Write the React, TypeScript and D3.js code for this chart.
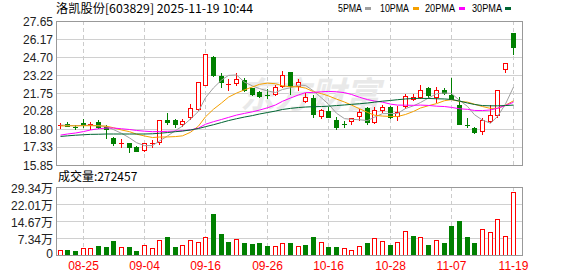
import React from 'react';
import * as d3 from 'd3';

const title = '洛凯股份[603829] 2025-11-19 10:44';
const dates = [
  '08-20','08-21','08-22','08-25','08-26','08-27','08-28','08-29','09-01','09-02',
  '09-03','09-04','09-05','09-08','09-09','09-10','09-11','09-12','09-15','09-16',
  '09-17','09-18','09-19','09-22','09-23','09-24','09-25','09-26','09-29','09-30',
  '10-09','10-10','10-13','10-14','10-15','10-16','10-17','10-20','10-21','10-22',
  '10-23','10-24','10-27','10-28','10-29','10-30','10-31','11-03','11-04','11-05',
  '11-06','11-07','11-10','11-11','11-12','11-13','11-14','11-17','11-18','11-19'];
const opens = [
  19.10,19.18,18.95,19.26,19.16,19.40,18.99,18.04,17.62,17.63,
  17.35,17.05,17.58,17.76,19.54,19.54,19.21,19.81,20.44,22.40,
  24.72,23.17,22.46,22.59,22.81,22.13,21.86,21.55,21.64,22.32,
  23.45,22.35,21.12,21.31,19.89,20.27,19.54,19.23,19.48,19.86,
  20.49,19.40,20.36,20.63,19.86,20.72,21.26,21.45,22.18,21.45,
  21.99,21.58,20.76,19.15,18.85,18.63,19.48,19.95,23.69,26.64];
const highs = [
  19.26,19.35,19.13,19.62,19.34,19.53,19.13,18.12,17.95,17.68,
  17.40,17.66,17.90,19.54,20.08,19.58,19.58,20.85,22.67,24.95,
  24.75,23.41,22.87,23.41,22.95,22.15,21.90,22.05,22.40,23.55,
  23.45,22.87,21.72,21.58,20.46,20.63,19.76,19.48,19.67,20.44,
  20.58,20.63,20.76,20.65,20.68,21.64,21.64,22.40,22.26,22.26,
  22.18,23.00,21.45,19.67,18.95,19.67,20.76,21.99,24.19,26.64];
const lows = [
  18.85,19.02,18.80,19.00,18.77,18.85,18.04,17.49,17.30,16.89,
  16.98,17.00,17.35,17.57,19.21,18.94,19.07,19.58,20.35,22.40,
  23.15,22.22,21.99,22.40,21.95,21.58,21.45,21.31,21.60,22.26,
  21.63,21.99,21.04,19.76,19.67,19.75,18.80,18.99,19.18,19.54,
  19.18,19.26,20.22,19.67,19.54,20.54,21.20,21.31,21.36,20.99,
  21.67,21.26,19.18,18.99,18.50,18.36,19.40,19.81,23.45,24.92];
const closes = [
  19.14,19.07,18.92,19.15,19.20,18.99,18.80,17.63,17.65,17.30,
  17.02,17.62,17.62,19.54,19.36,19.21,19.45,20.56,22.67,24.95,
  23.22,22.63,22.50,22.87,21.99,21.67,21.53,21.52,22.26,23.22,
  22.36,22.63,21.40,20.00,20.36,19.76,18.94,19.20,19.67,20.22,
  19.40,20.36,20.63,19.76,20.22,21.47,21.42,21.99,21.58,21.99,
  21.72,21.26,19.18,19.10,18.58,19.54,19.95,21.99,24.19,25.54];
const volumes = [
  21600,23000,17300,31600,31600,38800,35900,60400,33100,34500,
  17300,41700,28800,63300,77700,34500,43100,64000,54600,77700,
  177000,90600,56100,67600,51800,47500,51800,38800,38800,50300,
  51800,38800,43100,77700,54600,34500,34500,28800,20100,38800,
  51800,71900,59500,43100,54600,103500,83400,77700,43100,63300,
  51800,125100,146700,77700,51800,112200,99200,155300,82000,272457];
const ma5 = [
  19.12,19.10,19.06,19.10,19.10,19.07,19.01,18.75,18.45,18.07,
  17.68,17.44,17.44,17.82,18.23,18.67,19.04,19.62,20.25,21.37,
  22.17,22.81,23.19,23.23,22.64,22.33,22.11,21.92,21.79,22.04,
  22.18,22.40,22.37,21.92,21.35,20.83,20.09,19.65,19.59,19.56,
  19.49,19.77,20.06,20.07,20.07,20.48,20.70,20.97,21.34,21.69,
  21.75,21.71,21.15,20.65,19.97,19.53,19.27,19.83,20.85,22.24];
const ma10 = [
  19.05,19.06,19.06,19.07,19.07,19.06,19.03,18.90,18.72,18.58,
  18.38,18.23,18.10,18.14,18.15,18.18,18.24,18.53,19.04,19.80,
  20.42,20.93,21.41,21.74,22.01,22.25,22.46,22.56,22.51,22.34,
  22.26,22.26,22.15,21.86,21.70,21.51,21.25,21.01,20.76,20.46,
  20.16,19.93,19.86,19.83,19.82,19.99,20.24,20.52,20.71,20.88,
  21.12,21.21,21.06,21.00,20.83,20.64,20.49,20.49,20.75,21.11];
const ma20 = [
  18.30,18.39,18.47,18.59,18.72,18.82,18.88,18.88,18.82,18.76,
  18.68,18.62,18.58,18.59,18.61,18.63,18.66,18.72,18.88,19.19,
  19.40,19.58,19.75,19.94,20.08,20.21,20.35,20.54,20.77,21.07,
  21.34,21.59,21.78,21.80,21.85,21.88,21.85,21.78,21.63,21.40,
  21.21,21.09,21.00,20.84,20.76,20.75,20.74,20.76,20.73,20.67,
  20.64,20.57,20.46,20.41,20.32,20.31,20.36,20.50,20.73,20.99];
const ma30 = [
  18.19,18.24,18.29,18.33,18.36,18.37,18.39,18.39,18.39,18.39,
  18.39,18.39,18.41,18.45,18.51,18.58,18.63,18.72,18.84,18.99,
  19.15,19.33,19.49,19.64,19.78,19.90,20.03,20.15,20.27,20.40,
  20.49,20.56,20.60,20.63,20.64,20.67,20.72,20.77,20.82,20.87,
  20.93,21.00,21.08,21.14,21.20,21.26,21.30,21.31,21.30,21.28,
  21.26,21.22,21.09,20.93,20.81,20.72,20.70,20.70,20.72,20.76];
const priceTicks = [27.65, 26.17, 24.70, 23.22, 21.75, 20.28, 18.80, 17.33, 15.85];
const priceTickLabels = ['27.65','26.17','24.70','23.22','21.75','20.28','18.80','17.33','15.85'];
const volumeTicks = [293400, 220100, 146700, 73400, 0];
const volumeTickLabels = ['29.34万','22.01万','14.67万','7.34万','0'];
const dateTicks = ['08-25','09-04','09-16','09-26','10-16','10-28','11-07','11-19'];
const maNames = ['5PMA','10PMA','20PMA','30PMA'];
const maColors = ['#a0a0a0','#f5a000','#ff00ff','#006633'];
const maSeries = [ma5, ma10, ma20, ma30];

const RED = '#ff0000';
const GREEN = '#008000';

export default function App() {
  const W = 578, H = 276;
  const L = 56, R = 522;
  const mainTop = 21, mainBottom = 165, volTop = 187, volBottom = 255;

  const x = d3.scaleBand<string>().domain(dates).range([56.16, 516.96]).padding(0);
  const cx = (d: string) => Math.floor((x(d) as number) + x.bandwidth() / 2);
  const y = d3.scaleLinear().domain([15.85, 27.65]).range([mainBottom, mainTop]);
  const yv = d3.scaleLinear().domain([0, 293400]).range([volBottom, volTop]);

  const line = d3.line<number>()
    .x((_, i) => cx(dates[i]) + 0.5)
    .y((v) => y(v));

  const font = "'Liberation Sans', Arial, 'Noto Sans CJK SC', sans-serif";
  const cjk = "'Noto Sans CJK SC', 'Liberation Sans', sans-serif";

  const legendLayout = [
    { tx: 338, tw: 24, sx: 365 },
    { tx: 380, tw: 29, sx: 413 },
    { tx: 425, tw: 30, sx: 459 },
    { tx: 472, tw: 30, sx: 505 },
  ];

  return (
    <svg width={W} height={H} style={{ position: 'absolute', left: 0, top: 0, display: 'block', background: '#fff' }}>
      <rect x={0} y={0} width={W} height={H} fill="#fff" />
      {/* title */}
      <text x={56} y={13} fontSize={12} fontFamily={cjk} fill="#000" textLength={197} lengthAdjust="spacingAndGlyphs">{title}</text>
      {/* legend */}
      {maNames.map((n, i) => (
        <g key={n}>
          <text x={legendLayout[i].tx} y={12} fontSize={11} fontFamily={font} fill="#000" textLength={legendLayout[i].tw} lengthAdjust="spacingAndGlyphs">{n}</text>
          <rect x={legendLayout[i].sx} y={7} width={6} height={3} fill={maColors[i]} />
        </g>
      ))}

      {/* price grid */}
      {priceTicks.map((t) => (
        <line key={'pg' + t} x1={L} x2={R} y1={Math.round(y(t)) + 0.5} y2={Math.round(y(t)) + 0.5} stroke="#d0d0d0" />
      ))}
      {dateTicks.map((d) => (
        <line key={'vg' + d} x1={cx(d) + 0.5} x2={cx(d) + 0.5} y1={mainTop} y2={mainBottom} stroke="#cccccc" strokeDasharray="4,3" />
      ))}
      {/* volume grid */}
      {volumeTicks.map((t) => (
        <line key={'vvg' + t} x1={L} x2={R} y1={Math.round(yv(t)) + 0.5} y2={Math.round(yv(t)) + 0.5} stroke="#d0d0d0" />
      ))}
      {dateTicks.map((d) => (
        <line key={'vvd' + d} x1={cx(d) + 0.5} x2={cx(d) + 0.5} y1={volTop} y2={volBottom} stroke="#cccccc" strokeDasharray="4,3" />
      ))}

      {/* watermark */}
      <text x={240} y={108} fontSize={36} fontWeight="bold" fontStyle="italic" fontFamily={cjk} fill="#e9e9e9" textLength={140} lengthAdjust="spacingAndGlyphs">东方财富</text>

      {/* candles */}
      {dates.map((d, i) => {
        const c = cx(d);
        const o = opens[i], cl = closes[i];
        const up = cl >= o;
        const color = up ? RED : GREEN;
        const top = Math.round(y(Math.max(o, cl)));
        const bot = Math.round(y(Math.min(o, cl)));
        const hi = Math.round(y(highs[i]));
        const lo = Math.round(y(lows[i]));
        const h = bot - top;
        return (
          <g key={'c' + d}>
            <line x1={c + 0.5} x2={c + 0.5} y1={hi} y2={lo + 1} stroke={color} />
            {h < 2 ? (
              <line x1={c - 2} x2={c + 3} y1={top + 0.5} y2={top + 0.5} stroke={color} />
            ) : up ? (
              <rect x={c - 1.5} y={top + 0.5} width={4} height={h} fill="#fff" stroke={color} />
            ) : (
              <rect x={c - 2} y={top} width={5} height={h + 1} fill={color} />
            )}
          </g>
        );
      })}

      {/* MA lines */}
      {maSeries.map((s, i) => (
        <path key={'ma' + i} d={line(s) as string} fill="none" stroke={maColors[i]} strokeWidth={1} />
      ))}

      {/* volume bars */}
      {dates.map((d, i) => {
        const c = cx(d);
        const up = i === 0 ? closes[i] >= opens[i] : closes[i] >= closes[i - 1];
        const top = Math.round(yv(volumes[i]));
        const h = volBottom - top;
        return up ? (
          <rect key={'v' + d} x={c - 1.5} y={top + 0.5} width={4} height={h} fill="#fff" stroke={RED} />
        ) : (
          <rect key={'v' + d} x={c - 2} y={top} width={5} height={h + 1} fill={GREEN} />
        );
      })}

      {/* frames */}
      <rect x={L + 0.5} y={mainTop + 0.5} width={R - L} height={mainBottom - mainTop} fill="none" stroke="#999" />
      <rect x={L + 0.5} y={volTop + 0.5} width={R - L} height={volBottom - volTop} fill="none" stroke="#999" />

      {/* price axis labels */}
      {priceTicks.map((t, i) => (
        <text key={'pl' + t} x={53} y={y(t) + 4.5} textAnchor="end" fontSize={12} fontFamily={font} fill="#222">{priceTickLabels[i]}</text>
      ))}
      {/* volume axis labels */}
      {volumeTicks.map((t, i) => (
        <text key={'vl' + t} x={53} y={Math.min(yv(t) + 6, volBottom + 3)} textAnchor="end" fontSize={12} fontFamily={font} fill="#222">{volumeTickLabels[i]}</text>
      ))}
      <text x={58} y={181} fontSize={12} fontFamily={cjk} fill="#000">{'成交量:' + volumes[volumes.length - 1]}</text>

      {/* date labels */}
      {dateTicks.map((d) => (
        <text key={'dl' + d} x={cx(d) + 0.5} y={270} textAnchor="middle" fontSize={12} fontFamily={font} fill={RED}>{d}</text>
      ))}
    </svg>
  );
}
